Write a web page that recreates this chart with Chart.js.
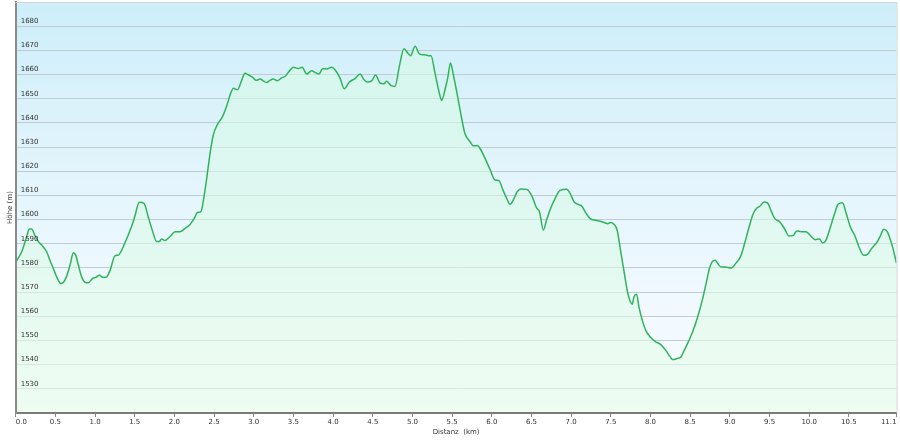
<!DOCTYPE html>
<html><head><meta charset="utf-8">
<script src="https://cdn.jsdelivr.net/npm/chart.js@4.4.0/dist/chart.umd.min.js"></script>
<style>html,body{margin:0;padding:0;background:#fff;}canvas{display:block;}</style>
</head><body>
<canvas id="c" width="900" height="440"></canvas>
<script>
const distKm = [0,0.075,0.138,0.17,0.2,0.24,0.285,0.327,0.39,0.43,0.474,0.525,0.567,0.6,0.64,0.685,0.727,0.756,0.79,0.83,0.886,0.915,0.97,1.01,1.054,1.096,1.138,1.19,1.25,1.294,1.336,1.4,1.46,1.5,1.558,1.617,1.67,1.727,1.777,1.81,1.84,1.88,1.945,2.01,2.07,2.134,2.197,2.25,2.29,2.335,2.373,2.41,2.45,2.49,2.54,2.608,2.66,2.71,2.745,2.795,2.85,2.89,2.93,2.986,3.03,3.08,3.12,3.16,3.205,3.246,3.297,3.35,3.394,3.436,3.5,3.562,3.61,3.667,3.73,3.77,3.822,3.868,3.92,3.982,4.024,4.087,4.14,4.205,4.276,4.34,4.39,4.43,4.486,4.536,4.591,4.64,4.675,4.73,4.78,4.835,4.893,4.948,4.977,5.033,5.087,5.13,5.17,5.2,5.234,5.284,5.339,5.368,5.41,5.444,5.48,5.515,5.557,5.6,5.66,5.725,5.767,5.818,5.85,5.914,5.977,6.04,6.09,6.137,6.187,6.23,6.27,6.322,6.364,6.44,6.503,6.566,6.6,6.65,6.69,6.733,6.797,6.86,6.945,6.987,7.038,7.093,7.135,7.19,7.241,7.305,7.368,7.432,7.461,7.495,7.538,7.58,7.622,7.664,7.706,7.736,7.77,7.791,7.825,7.854,7.897,7.94,8.003,8.066,8.13,8.193,8.248,8.277,8.332,8.383,8.425,8.476,8.53,8.594,8.657,8.7,8.742,8.776,8.814,8.848,8.89,8.941,9.017,9.081,9.136,9.186,9.237,9.292,9.334,9.377,9.432,9.474,9.525,9.567,9.631,9.694,9.745,9.8,9.843,9.898,9.957,10.012,10.075,10.13,10.168,10.21,10.265,10.32,10.363,10.42,10.467,10.518,10.573,10.624,10.688,10.73,10.785,10.857,10.9,10.94,10.985,11.05,11.1];
const heightM = [1582.3,1586.7,1592.9,1596,1596.1,1593.6,1590.9,1589.5,1586.7,1583.3,1579.8,1575.7,1573.6,1574,1576.4,1581.2,1586.3,1585.3,1581.2,1576.4,1573.9,1573.9,1575.7,1576.1,1577,1576.1,1576.1,1579.1,1585,1585.3,1587.4,1592.2,1597.1,1601.2,1607.2,1606.7,1601.2,1595,1590.9,1590.9,1592,1591.3,1593,1595,1595,1596.4,1598,1600.5,1602.9,1603.3,1609.5,1617.8,1627.5,1635,1639.2,1642.7,1647.1,1652.3,1654.3,1653.7,1657.8,1660.5,1659.9,1658.8,1657.6,1658.1,1657.4,1656.7,1657.6,1658.1,1657.4,1658.6,1659.2,1660.9,1663,1662.5,1663,1660.2,1661.6,1660.9,1660.2,1662.4,1662.3,1663,1662,1658.5,1654.1,1656.9,1658.3,1660.2,1657.8,1656.9,1657.4,1659.8,1656.5,1656.2,1657.2,1655.4,1655.1,1663.4,1670.7,1668.6,1667.8,1671.7,1668.5,1668.2,1668.1,1667.8,1667.8,1660.6,1652.3,1649.3,1653.7,1658.5,1664.8,1659.9,1653,1645.4,1635.7,1632.3,1630.5,1630.6,1629.5,1625.4,1620.8,1616.4,1616.1,1612.5,1608.8,1606.3,1608.1,1611.6,1612.7,1612.5,1609.9,1604.7,1603.3,1595.7,1599.8,1604,1608.7,1612.1,1612.6,1610.8,1607.3,1606.2,1605.5,1602.5,1600.4,1599.7,1599.3,1598.6,1598.3,1598.8,1598.1,1595.6,1587.3,1579,1570.8,1566.9,1565,1568,1569.1,1563.9,1558.3,1554.2,1551.2,1549.4,1548.3,1545.9,1543.2,1542.1,1542.5,1543.2,1545.9,1549.4,1553.5,1559.7,1567.3,1573.5,1579.7,1582.5,1583.2,1581.8,1580.4,1580.4,1580,1582.2,1584.8,1590.1,1596.3,1602.2,1604.6,1605.5,1607.3,1606.9,1603.2,1600.4,1599,1595.9,1593.2,1593.5,1595.3,1595,1595,1593.5,1591.7,1592,1590.3,1591.4,1596.7,1602.5,1606.3,1607,1602.5,1597,1593.5,1589,1585.2,1585.5,1588,1590.8,1593.5,1596,1594.9,1588.7,1582];
const xTickValues = [0,0.5,1,1.5,2,2.5,3,3.5,4,4.5,5,5.5,6,6.5,7,7.5,8,8.5,9,9.5,10,10.5,11.1];
const yTickValues = [1530,1540,1550,1560,1570,1580,1590,1600,1610,1620,1630,1640,1650,1660,1670,1680];
const xAxisTitle = 'Distanz  (km)';
const yAxisTitle = 'Höhe (m)';

const points = distKm.map((d, i) => ({x: d, y: heightM[i]}));
const font = {family: 'DejaVu Sans', size: 7};
const textColor = '#333';

const bgPlugin = {
  id: 'bg',
  beforeDraw(chart) {
    const {ctx, chartArea: a} = chart;
    ctx.save();
    ctx.fillStyle = '#fff';
    ctx.fillRect(0, 0, chart.width, chart.height);
    const g = ctx.createLinearGradient(0, a.top, 0, a.bottom);
    g.addColorStop(0, '#cdeef9');
    g.addColorStop(0.4, '#e2f4fc');
    g.addColorStop(0.8, '#f3faff');
    g.addColorStop(1, '#f6fbff');
    ctx.fillStyle = g;
    ctx.fillRect(a.left, a.top, a.right - a.left, a.bottom - a.top);
    ctx.restore();
  },
  afterDraw(chart) {
    const {ctx, chartArea: a} = chart;
    ctx.save();
    ctx.strokeStyle = '#d2d6d8';
    ctx.lineWidth = 1;
    ctx.beginPath();
    ctx.moveTo(a.left, a.top + 0.5);
    ctx.lineTo(a.right + 0.5, a.top + 0.5);
    ctx.lineTo(a.right + 0.5, a.bottom);
    ctx.stroke();
    ctx.restore();
  }
};

new Chart(document.getElementById('c'), {
  type: 'line',
  data: {
    datasets: [{
      data: points,
      borderColor: '#2fb35a',
      borderWidth: 1.5,
      pointRadius: 0,
      cubicInterpolationMode: 'monotone',
      fill: 'start',
      backgroundColor(ctx) {
        const a = ctx.chart.chartArea;
        if (!a) return 'rgba(0,0,0,0)';
        const g = ctx.chart.ctx.createLinearGradient(0, a.top, 0, a.bottom);
        g.addColorStop(0, 'rgba(214,252,228,0.55)');
        g.addColorStop(0.5, 'rgba(216,250,230,0.55)');
        g.addColorStop(1, 'rgba(232,252,232,0.6)');
        return g;
      }
    }]
  },
  options: {
    responsive: false,
    animation: false,
    devicePixelRatio: 1,
    layout: {padding: {top: 2, right: 3.5, left: 0, bottom: 0}},
    plugins: {legend: {display: false}, tooltip: {enabled: false}},
    scales: {
      x: {
        type: 'linear', min: 0, max: 11.1,
        afterBuildTicks: s => { s.ticks = xTickValues.map(v => ({value: v})); },
        afterFit: s => { s.height = 27; s.paddingLeft = 0; s.paddingRight = 0; },
        grid: {display: true, drawOnChartArea: false, drawTicks: true, tickLength: 4, color: '#888', lineWidth: 1},
        border: {display: true, color: '#7a7a7a', width: 2, z: 1},
        ticks: {autoSkip: false, maxRotation: 0, padding: 1, align: 'inner', font, color: textColor,
          callback: v => Number(v).toFixed(1)},
        title: {display: true, text: xAxisTitle, padding: {top: 0, bottom: 4}, font, color: textColor}
      },
      y: {
        min: 1520, max: 1690,
        afterBuildTicks: s => { s.ticks = yTickValues.map(v => ({value: v})); },
        afterFit: s => { s.width = 15.7; s.paddingTop = 0; s.paddingBottom = 0; },
        grid: {color: '#c0ccd1', lineWidth: 1, drawTicks: false},
        border: {display: true, color: '#8a8a8a', width: 2, z: 1},
        ticks: {mirror: true, padding: 5, labelOffset: -5, z: 1, font, color: textColor, callback: v => String(v)},
        title: {display: true, text: yAxisTitle, padding: {top: 6, bottom: 0}, font, color: textColor}
      }
    }
  },
  plugins: [bgPlugin]
});
</script>
</body></html>
